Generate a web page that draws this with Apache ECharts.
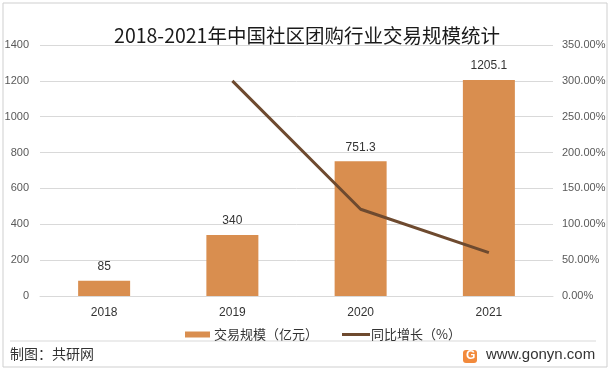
<!DOCTYPE html>
<html><head><meta charset="utf-8">
<script src="https://cdn.jsdelivr.net/npm/echarts@6/dist/echarts.min.js"></script>
<style>html,body{margin:0;padding:0;background:#fff}#c{width:614px;height:370px}</style>
</head><body><div id="c"></div>
<script>
const categories = ['2018','2019','2020','2021'];
const scaleValues = [85, 340, 751.3, 1205.1];
const growthValues = [null, 300, 121, 60.4];

const chart = echarts.init(document.getElementById('c'));
const font = '"Microsoft YaHei","Noto Sans CJK SC",sans-serif';
const latin = '"Liberation Sans",sans-serif';
chart.setOption({
  backgroundColor:'#fff',
  animation:false,
  title:{text:'2018-2021年中国社区团购行业交易规模统计',left:'center',top:21,
    textStyle:{fontSize:19.5,fontWeight:'normal',color:'#1a1a1a',fontFamily:font}},
  legend:[
    {left:180,top:323,itemGap:10,itemWidth:25,itemHeight:6,
     textStyle:{fontSize:13,color:'#333',fontFamily:font,padding:[0,0,0,-1]},
     data:[{name:'交易规模（亿元）',icon:'rect'}]},
    {left:337,top:323,itemWidth:28,itemHeight:3,
     textStyle:{fontSize:13,color:'#333',fontFamily:font,padding:[0,0,0,-4]},
     data:[{name:'同比增长（%）',icon:'rect',itemStyle:{color:'#6e4a2f'}}]}
  ],
  grid:{left:40,right:61,top:45,bottom:74,outerBoundsMode:'none',containLabel:false},
  xAxis:{type:'category',data:categories,
    axisLine:{show:true,lineStyle:{color:'#d9d9d9'}},axisTick:{show:false},
    axisLabel:{margin:11,fontSize:12,color:'#333',fontFamily:latin}},
  yAxis:[
    {type:'value',min:0,max:1400,interval:200,
     splitLine:{lineStyle:{color:'#d9d9d9'}},axisLine:{show:false},axisTick:{show:false},
     axisLabel:{margin:11,fontSize:11,color:'#595959',fontFamily:latin,formatter:v=>String(v)}},
    {type:'value',min:0,max:350,interval:50,position:'right',
     splitLine:{show:false},axisLine:{show:false},axisTick:{show:false},
     axisLabel:{margin:9,fontSize:11,color:'#595959',fontFamily:latin,
       formatter:v=>v.toFixed(2)+'%'}}
  ],
  series:[
    {name:'交易规模（亿元）',type:'bar',data:scaleValues,barWidth:52,
     itemStyle:{color:'#d98e4f'},
     label:{show:true,position:'top',distance:8,fontSize:12,color:'#333',fontFamily:latin}},
    {name:'同比增长（%）',type:'line',yAxisIndex:1,data:growthValues,
     symbol:'none',lineStyle:{width:3,color:'#6e4a2f'},itemStyle:{color:'#6e4a2f'}}
  ],
  graphic:[
    {type:'rect',shape:{x:3,y:3,width:604,height:364},style:{fill:'none',stroke:'#cfcfcf',lineWidth:1}},
    {type:'line',shape:{x1:10,y1:341,x2:596,y2:341},style:{stroke:'#d9d9d9',lineWidth:1}},
    {type:'text',x:10,y:347,style:{text:'制图：共研网',fontSize:14,fill:'#333',fontFamily:font}},
    {type:'rect',shape:{x:463,y:350,width:14,height:13,r:3},style:{fill:'#f28a3c'}},
    {type:'text',x:466,y:350,style:{text:'G',fontSize:12,fontWeight:'bold',fill:'#fff',fontFamily:latin}},
    {type:'text',x:486,y:347,style:{text:'www.gonyn.com',fontSize:15,fill:'#333',fontFamily:latin}}
  ]
});
</script></body></html>
